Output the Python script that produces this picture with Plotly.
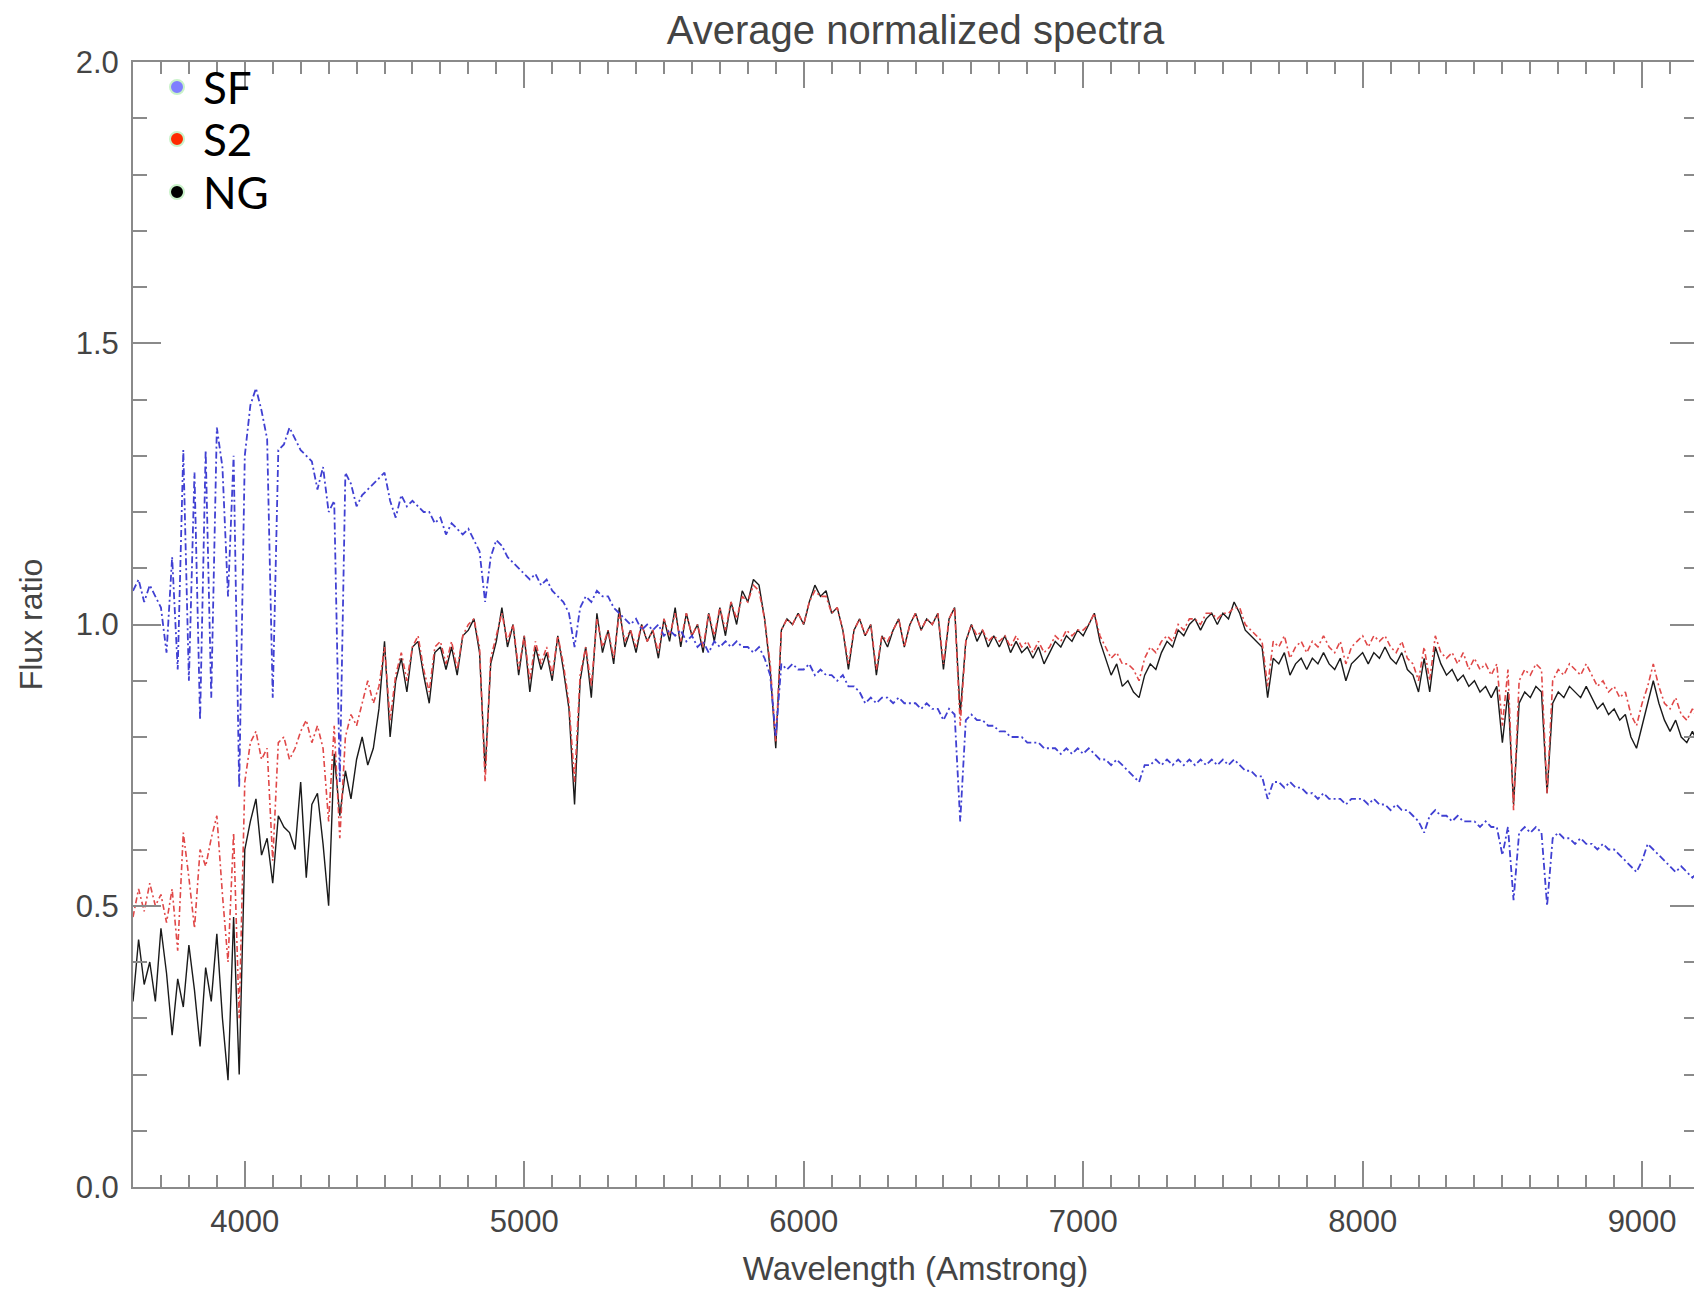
"""
Average normalized spectra of SF, S2 and NG galaxies (flux ratio vs wavelength).
Values read off the reference picture on a 20 A grid.
"""

import plotly.graph_objects as go

# ── Data ─────────────────────────────────────────────────────────────────────

# sampling grid in Angstrom: 3600, 3620, ..., 9200
WAVELENGTH = list(range(3600, 9201, 20))

NG_FLUX = [
    0.33, 0.44, 0.36, 0.40, 0.33, 0.46, 0.38, 0.27, 0.37, 0.32,  # 3600-3780
    0.43, 0.35, 0.25, 0.39, 0.33, 0.45, 0.30, 0.19, 0.48, 0.20,  # 3800-3980
    0.60, 0.65, 0.69, 0.59, 0.62, 0.54, 0.66, 0.64, 0.63, 0.60,  # 4000-4180
    0.72, 0.55, 0.68, 0.70, 0.61, 0.50, 0.77, 0.66, 0.74, 0.69,  # 4200-4380
    0.76, 0.80, 0.75, 0.78, 0.85, 0.97, 0.80, 0.90, 0.94, 0.88,  # 4400-4580
    0.96, 0.97, 0.91, 0.86, 0.95, 0.96, 0.92, 0.96, 0.91, 0.98,  # 4600-4780
    0.99, 1.01, 0.95, 0.74, 0.93, 0.97, 1.03, 0.96, 1.00, 0.91,  # 4800-4980
    0.98, 0.88, 0.96, 0.92, 0.95, 0.90, 0.98, 0.92, 0.85, 0.68,  # 5000-5180
    0.90, 0.96, 0.87, 1.02, 0.95, 0.99, 0.93, 1.03, 0.96, 0.99,  # 5200-5380
    0.95, 1.00, 0.97, 0.99, 0.94, 1.01, 0.97, 1.03, 0.96, 1.02,  # 5400-5580
    0.98, 1.00, 0.95, 1.02, 0.97, 1.03, 0.98, 1.04, 1.00, 1.06,  # 5600-5780
    1.04, 1.08, 1.07, 1.01, 0.92, 0.78, 0.99, 1.01, 1.00, 1.02,  # 5800-5980
    1.00, 1.04, 1.07, 1.05, 1.06, 1.02, 1.03, 0.99, 0.92, 0.99,  # 6000-6180
    1.01, 0.98, 1.00, 0.91, 0.98, 0.96, 0.99, 1.01, 0.96, 1.00,  # 6200-6380
    1.02, 0.99, 1.01, 1.00, 1.02, 0.92, 1.01, 1.03, 0.84, 0.97,  # 6400-6580
    1.00, 0.97, 0.99, 0.96, 0.98, 0.96, 0.98, 0.95, 0.97, 0.95,  # 6600-6780
    0.96, 0.94, 0.96, 0.93, 0.95, 0.97, 0.96, 0.98, 0.97, 0.99,  # 6800-6980
    0.98, 1.00, 1.02, 0.97, 0.94, 0.91, 0.93, 0.89, 0.90, 0.88,  # 7000-7180
    0.87, 0.91, 0.93, 0.92, 0.95, 0.97, 0.96, 0.99, 0.98, 1.00,  # 7200-7380
    1.01, 0.99, 1.01, 1.02, 1.00, 1.02, 1.01, 1.04, 1.02, 0.99,  # 7400-7580
    0.98, 0.97, 0.96, 0.87, 0.94, 0.93, 0.95, 0.91, 0.93, 0.94,  # 7600-7780
    0.92, 0.94, 0.93, 0.95, 0.93, 0.92, 0.94, 0.90, 0.93, 0.94,  # 7800-7980
    0.95, 0.93, 0.95, 0.94, 0.96, 0.94, 0.93, 0.95, 0.92, 0.91,  # 8000-8180
    0.88, 0.94, 0.88, 0.96, 0.93, 0.91, 0.92, 0.90, 0.91, 0.89,  # 8200-8380
    0.90, 0.88, 0.89, 0.87, 0.89, 0.79, 0.88, 0.68, 0.86, 0.88,  # 8400-8580
    0.87, 0.89, 0.88, 0.70, 0.86, 0.88, 0.87, 0.89, 0.88, 0.87,  # 8600-8780
    0.89, 0.87, 0.85, 0.86, 0.84, 0.85, 0.83, 0.84, 0.80, 0.78,  # 8800-8980
    0.82, 0.86, 0.90, 0.86, 0.83, 0.81, 0.83, 0.80, 0.79, 0.81,  # 9000-9180
    0.79,                                                        # 9200
]

S2_FLUX = [
    0.48, 0.53, 0.49, 0.54, 0.50, 0.52, 0.47, 0.53, 0.42, 0.63,  # 3600-3780
    0.55, 0.46, 0.60, 0.57, 0.62, 0.66, 0.52, 0.40, 0.63, 0.30,  # 3800-3980
    0.72, 0.79, 0.81, 0.76, 0.78, 0.58, 0.79, 0.80, 0.76, 0.78,  # 4000-4180
    0.81, 0.83, 0.79, 0.82, 0.78, 0.65, 0.82, 0.62, 0.80, 0.84,  # 4200-4380
    0.82, 0.86, 0.90, 0.86, 0.89, 0.96, 0.83, 0.91, 0.95, 0.90,  # 4400-4580
    0.96, 0.98, 0.92, 0.88, 0.96, 0.97, 0.93, 0.97, 0.92, 0.98,  # 4600-4780
    1.00, 1.01, 0.96, 0.72, 0.94, 0.98, 1.02, 0.97, 1.00, 0.92,  # 4800-4980
    0.98, 0.90, 0.97, 0.93, 0.96, 0.91, 0.98, 0.93, 0.86, 0.72,  # 5000-5180
    0.91, 0.96, 0.89, 1.01, 0.96, 0.99, 0.94, 1.02, 0.97, 0.99,  # 5200-5380
    0.96, 1.00, 0.97, 0.99, 0.95, 1.01, 0.98, 1.02, 0.97, 1.02,  # 5400-5580
    0.98, 1.00, 0.96, 1.02, 0.98, 1.03, 0.99, 1.04, 1.01, 1.05,  # 5600-5780
    1.04, 1.07, 1.06, 1.01, 0.93, 0.79, 0.99, 1.01, 1.00, 1.02,  # 5800-5980
    1.00, 1.04, 1.06, 1.05, 1.05, 1.02, 1.03, 0.99, 0.93, 0.99,  # 6000-6180
    1.01, 0.98, 1.00, 0.92, 0.98, 0.97, 0.99, 1.01, 0.96, 1.00,  # 6200-6380
    1.02, 0.99, 1.01, 1.00, 1.02, 0.93, 1.01, 1.03, 0.82, 0.97,  # 6400-6580
    1.00, 0.98, 0.99, 0.97, 0.98, 0.97, 0.98, 0.96, 0.98, 0.96,  # 6600-6780
    0.97, 0.95, 0.97, 0.95, 0.96, 0.98, 0.97, 0.99, 0.98, 0.99,  # 6800-6980
    0.99, 1.00, 1.02, 0.98, 0.96, 0.94, 0.95, 0.93, 0.93, 0.92,  # 7000-7180
    0.90, 0.94, 0.96, 0.95, 0.97, 0.98, 0.97, 1.00, 0.99, 1.01,  # 7200-7380
    1.01, 1.00, 1.02, 1.02, 1.01, 1.02, 1.02, 1.03, 1.03, 1.00,  # 7400-7580
    0.99, 0.98, 0.97, 0.89, 0.97, 0.96, 0.98, 0.94, 0.96, 0.97,  # 7600-7780
    0.95, 0.97, 0.96, 0.98, 0.96, 0.95, 0.97, 0.93, 0.96, 0.97,  # 7800-7980
    0.98, 0.96, 0.98, 0.97, 0.98, 0.96, 0.95, 0.97, 0.94, 0.93,  # 8000-8180
    0.90, 0.96, 0.90, 0.98, 0.95, 0.94, 0.95, 0.93, 0.95, 0.92,  # 8200-8380
    0.94, 0.92, 0.93, 0.91, 0.93, 0.82, 0.92, 0.67, 0.90, 0.92,  # 8400-8580
    0.91, 0.93, 0.92, 0.70, 0.90, 0.92, 0.91, 0.93, 0.92, 0.91,  # 8600-8780
    0.93, 0.91, 0.89, 0.90, 0.88, 0.89, 0.87, 0.88, 0.84, 0.82,  # 8800-8980
    0.86, 0.89, 0.93, 0.89, 0.86, 0.85, 0.87, 0.84, 0.83, 0.85,  # 9000-9180
    0.83,                                                        # 9200
]

SF_FLUX = [
    1.06, 1.08, 1.04, 1.07, 1.05, 1.03, 0.95, 1.12, 0.92, 1.31,  # 3600-3780
    0.90, 1.27, 0.83, 1.31, 0.87, 1.35, 1.28, 1.05, 1.30, 0.71,  # 3800-3980
    1.30, 1.39, 1.42, 1.38, 1.33, 0.87, 1.31, 1.32, 1.35, 1.33,  # 4000-4180
    1.31, 1.30, 1.29, 1.24, 1.28, 1.20, 1.22, 0.72, 1.27, 1.25,  # 4200-4380
    1.21, 1.23, 1.24, 1.25, 1.26, 1.27, 1.22, 1.19, 1.23, 1.21,  # 4400-4580
    1.22, 1.21, 1.20, 1.20, 1.18, 1.19, 1.16, 1.18, 1.17, 1.16,  # 4600-4780
    1.17, 1.15, 1.13, 1.04, 1.12, 1.15, 1.14, 1.12, 1.11, 1.10,  # 4800-4980
    1.09, 1.08, 1.09, 1.07, 1.08, 1.06, 1.05, 1.04, 1.02, 0.96,  # 5000-5180
    1.03, 1.05, 1.04, 1.06, 1.05, 1.05, 1.03, 1.02, 1.01, 1.00,  # 5200-5380
    1.01, 0.99, 1.00, 0.99, 1.00, 0.98, 0.99, 0.98, 0.99, 0.97,  # 5400-5580
    0.98, 0.96, 0.97, 0.95, 0.97, 0.96, 0.97, 0.96, 0.97, 0.96,  # 5600-5780
    0.96, 0.95, 0.96, 0.94, 0.91, 0.80, 0.93, 0.92, 0.93, 0.92,  # 5800-5980
    0.92, 0.93, 0.91, 0.92, 0.91, 0.91, 0.90, 0.91, 0.89, 0.89,  # 6000-6180
    0.88, 0.86, 0.87, 0.86, 0.87, 0.87, 0.86, 0.87, 0.86, 0.86,  # 6200-6380
    0.86, 0.85, 0.86, 0.85, 0.85, 0.83, 0.85, 0.84, 0.65, 0.83,  # 6400-6580
    0.84, 0.83, 0.83, 0.82, 0.82, 0.81, 0.81, 0.80, 0.80, 0.80,  # 6600-6780
    0.79, 0.79, 0.79, 0.78, 0.78, 0.78, 0.77, 0.78, 0.77, 0.78,  # 6800-6980
    0.77, 0.78, 0.77, 0.76, 0.76, 0.75, 0.76, 0.75, 0.74, 0.73,  # 7000-7180
    0.72, 0.75, 0.75, 0.76, 0.75, 0.76, 0.75, 0.76, 0.75, 0.76,  # 7200-7380
    0.75, 0.76, 0.75, 0.76, 0.75, 0.76, 0.75, 0.76, 0.75, 0.74,  # 7400-7580
    0.74, 0.73, 0.73, 0.69, 0.72, 0.72, 0.71, 0.72, 0.71, 0.71,  # 7600-7780
    0.70, 0.70, 0.69, 0.70, 0.69, 0.69, 0.69, 0.68, 0.69, 0.69,  # 7800-7980
    0.69, 0.68, 0.69, 0.68, 0.68, 0.67, 0.68, 0.67, 0.67, 0.66,  # 8000-8180
    0.65, 0.63, 0.66, 0.67, 0.66, 0.66, 0.65, 0.66, 0.65, 0.65,  # 8200-8380
    0.65, 0.64, 0.65, 0.64, 0.64, 0.59, 0.64, 0.51, 0.63, 0.64,  # 8400-8580
    0.63, 0.64, 0.63, 0.50, 0.62, 0.63, 0.62, 0.62, 0.61, 0.62,  # 8600-8780
    0.61, 0.61, 0.60, 0.61, 0.60, 0.60, 0.59, 0.58, 0.57, 0.56,  # 8800-8980
    0.58, 0.61, 0.60, 0.59, 0.58, 0.57, 0.56, 0.57, 0.56, 0.55,  # 9000-9180
    0.56,                                                        # 9200
]

X_TICKS = [4000, 5000, 6000, 7000, 8000, 9000]
Y_TICKS = [0.0, 0.5, 1.0, 1.5, 2.0]

LEGEND_NAMES = ["SF", "S2", "NG"]
LEGEND_COLORS = ["#7f7fff", "#ff2a00", "#000000"]

# ── Styling ──────────────────────────────────────────────────────────────────

FONT = "Liberation Sans, Arial, Helvetica, sans-serif"
TEXT_GREY = "#444444"
AXIS_GREY = "#8a8a8a"

# the page body keeps its default 8px margin, so the figure is a bit smaller
# than the window and all pixel positions below are figure-relative
FIG_W, FIG_H = 1694, 1282
PLOT_L, PLOT_R, PLOT_T, PLOT_B = 125, 1690, 54, 1179


def _px_to_paper(px_x, px_y):
    return (
        (px_x - PLOT_L) / (PLOT_R - PLOT_L),
        (PLOT_B - px_y) / (PLOT_B - PLOT_T),
    )


fig = go.Figure()

fig.add_trace(go.Scatter(
    x=WAVELENGTH, y=NG_FLUX, mode="lines", name="NG",
    line=dict(color="#1a1a1a", width=1.4),
))
fig.add_trace(go.Scatter(
    x=WAVELENGTH, y=S2_FLUX, mode="lines", name="S2",
    line=dict(color="#e04848", width=1.6, dash="6px,3px,2px,3px"),
))
fig.add_trace(go.Scatter(
    x=WAVELENGTH, y=SF_FLUX, mode="lines", name="SF",
    line=dict(color="#4040d2", width=1.8, dash="7px,3px,2px,3px"),
))

axis_common = dict(
    automargin=False,
    showline=True,
    linecolor=AXIS_GREY,
    linewidth=2,
    mirror="ticks",
    ticks="inside",
    tickcolor=AXIS_GREY,
    tickwidth=1.5,
    showgrid=False,
    zeroline=False,
    tickfont=dict(family=FONT, size=31, color=TEXT_GREY),
)

fig.update_xaxes(
    **axis_common,
    range=[3600, 9200],
    tickvals=X_TICKS,
    ticklen=26,
    ticklabelstandoff=6,
    minor=dict(dtick=100, ticklen=12, ticks="inside", tickcolor=AXIS_GREY, tickwidth=1.5),
    title=dict(text="Wavelength (Amstrong)", font=dict(family=FONT, size=33, color=TEXT_GREY), standoff=19),
)
fig.update_yaxes(
    **axis_common,
    range=[0, 2.0],
    tickvals=Y_TICKS,
    tickformat=".1f",
    ticklen=28,
    ticklabelstandoff=6,
    minor=dict(dtick=0.1, ticklen=14, ticks="inside", tickcolor=AXIS_GREY, tickwidth=1.5),
    title=dict(text="Flux ratio", font=dict(family=FONT, size=32, color=TEXT_GREY), standoff=23),
)

# legend: coloured dots with a pale green halo plus large labels, top-left
legend_y_px = [79, 131, 184]
for name, color, ypx in zip(LEGEND_NAMES, LEGEND_COLORS, legend_y_px):
    mx, my = _px_to_paper(169, ypx)
    fig.add_shape(
        type="circle", xref="paper", yref="paper",
        xsizemode="pixel", ysizemode="pixel",
        xanchor=mx, yanchor=my, x0=-7, x1=7, y0=-7, y1=7,
        fillcolor=color, line=dict(color="#c9f2c9", width=2),
    )
    tx, ty = _px_to_paper(193, ypx)
    fig.add_annotation(
        x=tx, y=ty, xref="paper", yref="paper",
        text=name, showarrow=False, xanchor="left", yanchor="middle",
        font=dict(family="Lato, Open Sans, sans-serif", size=44, color="#000000"),
    )

fig.update_layout(
    width=FIG_W,
    height=FIG_H,
    margin=dict(l=PLOT_L, r=FIG_W - PLOT_R, t=PLOT_T, b=FIG_H - PLOT_B, autoexpand=False),
    paper_bgcolor="white",
    plot_bgcolor="white",
    showlegend=False,
    title=dict(
        text="Average normalized spectra",
        font=dict(family=FONT, size=40, color=TEXT_GREY),
        x=(PLOT_L + PLOT_R) / 2 / FIG_W, xanchor="center",
        y=1 - 22 / FIG_H, yanchor="middle",
    ),
)

fig.write_html("out.html")
